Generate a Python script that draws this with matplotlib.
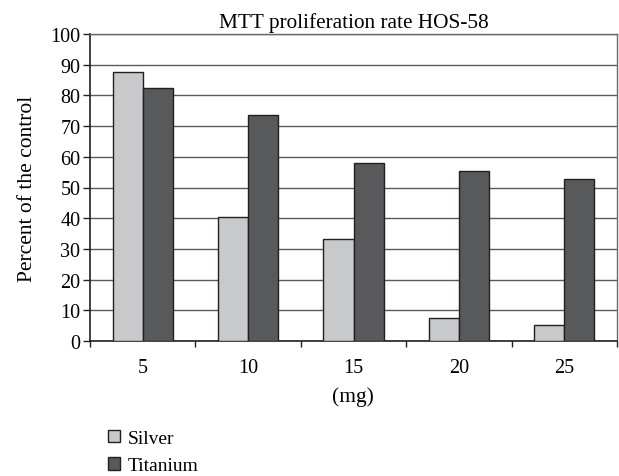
import numpy as np
import matplotlib
matplotlib.use("Agg")
import matplotlib.pyplot as plt

doses = ["5", "10", "15", "20", "25"]
silver = [87.7, 40.3, 33.2, 7.5, 5.2]
titanium = [82.4, 73.6, 58.0, 55.4, 52.7]
yticks = [0, 10, 20, 30, 40, 50, 60, 70, 80, 90, 100]

plt.rcParams["font.family"] = ["Liberation Serif", "DejaVu Serif"]

W, H = 619, 477
fig = plt.figure(figsize=(W / 100, H / 100), dpi=100)
ax = fig.add_axes([90 / W, 1 - 342 / H, 527 / W, 307 / H])

x = np.arange(len(doses))
w = 0.285
edge = "#231f20"
ax.bar(x - w / 2, silver, w, color="#c8c9cb", edgecolor=edge, linewidth=1.0,
       label="Silver", zorder=3)
ax.bar(x + w / 2, titanium, w, color="#58595b", edgecolor=edge, linewidth=1.0,
       label="Titanium", zorder=3)

ax.set_xlim(-0.5, len(doses) - 0.5)
ax.set_ylim(0, 100)
ax.set_yticks(yticks)
ax.set_xticks(x)
ax.set_xticklabels(doses)
ax.set_xticks(np.arange(len(doses) + 1) - 0.5, minor=True)
ax.tick_params(axis="x", which="major", length=0, pad=12, labelsize=14.5)
ax.tick_params(axis="x", which="minor", length=4, width=1, color=edge)
ax.tick_params(axis="y", length=5, width=1, color=edge, pad=2, labelsize=14.5)

ax.grid(axis="y", color="#5a5a5a", linewidth=1.0, zorder=0)
for side in ("left", "bottom"):
    ax.spines[side].set_color(edge)
    ax.spines[side].set_linewidth(1.2)
for side in ("top", "right"):
    ax.spines[side].set_color("#6a6a6a")
    ax.spines[side].set_linewidth(1.0)

ax.set_title("MTT proliferation rate HOS-58", fontsize=15.3, pad=5)
fig.text(28 / W, 1 - 189 / H, "Percent of the control", rotation=90,
         ha="center", va="center", fontsize=15.5)
fig.text(353 / W, 1 - 397 / H, "(mg)", ha="center", va="center", fontsize=15.5)

fig.legend(loc="center left", bbox_to_anchor=(108 / W, 1 - 453 / H),
           frameon=False, fontsize=14,
           handlelength=0.6, handleheight=0.6, handletextpad=0.4,
           labelspacing=0.53, borderaxespad=0, borderpad=0)

fig.savefig("out.png", dpi=100)
